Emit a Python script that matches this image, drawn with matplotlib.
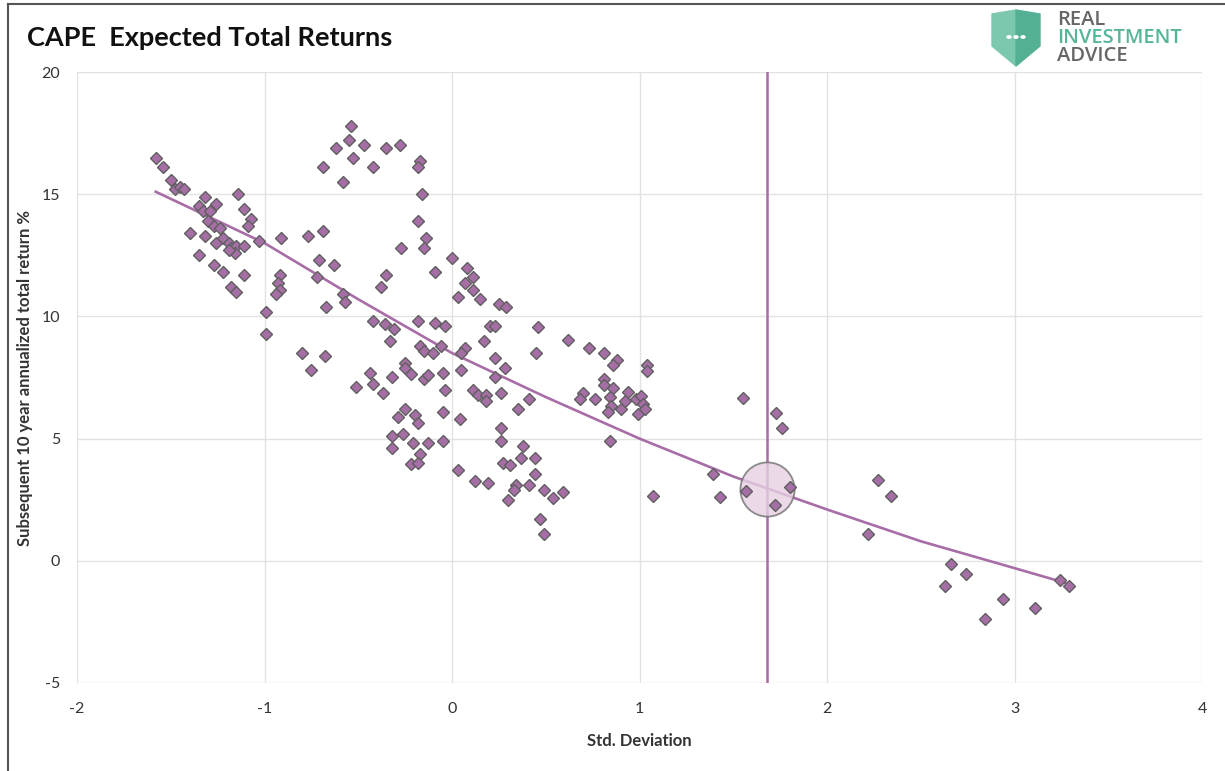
import matplotlib
matplotlib.use("Agg")
import matplotlib.pyplot as plt
from matplotlib.patches import Polygon, Circle
from matplotlib.lines import Line2D

plt.rcParams["font.family"] = ["Lato", "DejaVu Sans"]
plt.rcParams["axes.unicode_minus"] = False

# scatter data: CAPE std. deviation vs subsequent 10y annualized total return (%)
std_dev = [
    -1.58, -1.54, -1.50, -1.48, -1.45, -1.43, -1.32, -1.26, -1.35, -1.33, -1.29, -1.14, -1.11, -1.07,
    -1.09, -1.30, -1.27, -1.24, -1.40, -1.32, -1.26, -1.22, -1.19, -1.18, -1.15, -1.16, -1.19, -1.11,
    -1.03, -0.91, -1.35, -1.27, -1.22, -1.11, -1.18, -1.15, -0.92, -0.93, -0.92, -0.94, -0.99, -0.99,
    -0.77, -0.69, -0.71, -0.63, -0.72, -0.67, -0.69, -0.62, -0.80, -0.68, -0.75,
    -0.54, -0.55, -0.47, -0.53, -0.35, -0.28, -0.42, -0.58, -0.17, -0.18, -0.16, -0.18, -0.14, -0.15,
    -0.27, 0.00, -0.09, -0.35, -0.38, 0.08, 0.11, 0.07, 0.11, 0.03, 0.15, 0.25, 0.29, -0.58, -0.57,
    -0.42, -0.36, -0.31, -0.33, -0.18, -0.09, -0.04, 0.20, 0.23,
    -0.17, -0.15, -0.10, -0.06, 0.07, 0.05, 0.17, 0.23, 0.28, 0.23, -0.25, -0.25, -0.22, -0.44, -0.42,
    -0.37, -0.51, -0.32, -0.15, -0.13, -0.05, 0.05, -0.04, 0.11, 0.14, 0.18, 0.18, 0.26, 0.35, 0.41,
    -0.25, -0.29, -0.20, -0.18, -0.05, 0.04, -0.32, -0.26, -0.32, -0.21, -0.13, -0.05, -0.17, -0.22,
    -0.18, 0.03, 0.12, 0.19, 0.26, 0.26, 0.38, 0.37, 0.27, 0.31, 0.34, 0.33, 0.30,
    0.46, 0.45, 0.62, 0.73, 0.81, 0.88, 0.86, 1.04, 1.04, 0.81, 0.81, 0.86, 0.70, 0.68, 0.76, 0.84,
    0.85, 0.83, 0.90, 0.92, 0.94, 0.98, 1.01, 1.02, 0.99, 1.03, 0.84, 0.44, 0.44, 0.41, 0.49, 0.54,
    0.59, 0.47, 0.49, 1.07,
    1.39, 1.55, 1.73, 1.76, 1.43, 1.57, 1.72, 1.80, 2.27, 2.34, 2.22, 2.66, 2.74, 2.63, 2.94, 2.84,
    3.11, 3.24, 3.29,
]
total_return = [
    16.5, 16.1, 15.6, 15.2, 15.3, 15.2, 14.9, 14.6, 14.5, 14.3, 14.3, 15.0, 14.4, 14.0,
    13.7, 13.9, 13.7, 13.6, 13.4, 13.3, 13.0, 13.2, 13.0, 12.8, 12.9, 12.6, 12.7, 12.9,
    13.1, 13.2, 12.5, 12.1, 11.8, 11.7, 11.2, 11.0, 11.7, 11.35, 11.1, 10.9, 10.2, 9.3,
    13.3, 13.5, 12.3, 12.1, 11.6, 10.4, 16.1, 16.9, 8.5, 8.4, 7.8,
    17.8, 17.2, 17.0, 16.5, 16.9, 17.0, 16.1, 15.5, 16.35, 16.1, 15.0, 13.9, 13.2, 12.8,
    12.8, 12.4, 11.8, 11.7, 11.2, 12.0, 11.6, 11.35, 11.1, 10.8, 10.7, 10.5, 10.4, 10.9, 10.6,
    9.8, 9.7, 9.5, 9.0, 9.8, 9.75, 9.6, 9.6, 9.6,
    8.8, 8.6, 8.5, 8.8, 8.7, 8.5, 9.0, 8.3, 7.9, 7.5, 8.1, 7.9, 7.65, 7.7, 7.25,
    6.85, 7.1, 7.5, 7.45, 7.6, 7.7, 7.8, 7.0, 7.0, 6.8, 6.8, 6.55, 6.85, 6.2, 6.6,
    6.2, 5.9, 5.95, 5.65, 6.1, 5.8, 5.1, 5.2, 4.6, 4.8, 4.8, 4.9, 4.35, 3.95,
    4.0, 3.7, 3.25, 3.2, 5.45, 4.9, 4.7, 4.2, 4.0, 3.9, 3.1, 2.9, 2.5,
    9.55, 8.5, 9.05, 8.7, 8.5, 8.2, 8.0, 8.0, 7.75, 7.45, 7.2, 7.05, 6.85, 6.6, 6.6, 6.7,
    6.35, 6.1, 6.2, 6.55, 6.9, 6.6, 6.75, 6.4, 6.0, 6.2, 4.9, 4.2, 3.55, 3.1, 2.9, 2.55,
    2.8, 1.7, 1.1, 2.65,
    3.55, 6.65, 6.05, 5.45, 2.6, 2.85, 2.3, 3.0, 3.3, 2.65, 1.1, -0.15, -0.55, -1.05, -1.55, -2.4,
    -1.95, -0.8, -1.05,
]

# trend line
trend_x = [-1.58, -1.0, -0.5, 0.0, 0.5, 1.0, 1.5, 2.0, 2.5, 3.0, 3.27]
trend_y = [15.1, 13.0, 10.7, 8.5, 6.7, 5.0, 3.45, 2.1, 0.8, -0.3, -0.9]

current_std = 1.68
current_return = 2.95

x_ticks = [-2, -1, 0, 1, 2, 3, 4]
y_ticks = [-5, 0, 5, 10, 15, 20]

W, H = 1225, 771
PURPLE = "#a86da7"


def fx(x):
    return x / W


def fy(y):
    return 1 - y / H


fig = plt.figure(figsize=(W / 100, H / 100), dpi=100)
ax = fig.add_axes([fx(77), fy(683), fx(1202) - fx(77), fy(72) - fy(683)])

ax.plot(trend_x, trend_y, color=PURPLE, lw=1.9, zorder=2, solid_joinstyle="round")
ax.axvline(current_std, color=PURPLE, lw=1.8, zorder=2)
ax.plot([current_std], [current_return], marker="o", ms=39, mfc="#e6d0e3", mec="#707070",
        mew=1.3, alpha=0.8, ls="none", zorder=3)
ax.plot(std_dev, total_return, ls="none", marker="D", ms=6.3, mfc="#a56ea4", mec="#606060",
        mew=1.0, zorder=4)

ax.set_xlim(-2, 4)
ax.set_ylim(-5, 20)
ax.set_xticks(x_ticks)
ax.set_yticks(y_ticks)
ax.grid(True, color="#e2e2e2", lw=1.0)
ax.set_axisbelow(True)
for s in ax.spines.values():
    s.set_visible(False)
ax.tick_params(length=0, labelsize=11.5, colors="#333333", pad=14)
ax.tick_params(axis="y", pad=12)
ax.set_xlabel("Std. Deviation", fontsize=12, fontweight="bold", color="#333333", labelpad=12)
ax.set_ylabel("Subsequent 10 year annualized total return %", fontsize=12, fontweight="bold",
              color="#333333", labelpad=6)

fig.text(fx(27), fy(38), "CAPE  Expected Total Returns", fontsize=19.5, fontweight="bold",
         color="#111111", va="center", ha="left")

# frame lines of the screenshot
fig.add_artist(Line2D([fx(8), fx(8)], [fy(4), 0], color="#555555", lw=1.5))
fig.add_artist(Line2D([fx(8), 1], [fy(4), fy(4)], color="#555555", lw=1.5))

# logo
left_half = [(992, 14), (1016, 10), (1016, 66), (992, 46)]
right_half = [(1016, 10), (1040, 14), (1040, 46), (1016, 66)]
fig.add_artist(Polygon([(fx(a), fy(b)) for a, b in left_half], closed=True,
                       color="#7cc8ae", transform=fig.transFigure))
fig.add_artist(Polygon([(fx(a), fy(b)) for a, b in right_half], closed=True,
                       color="#54b095", transform=fig.transFigure))
for dx in (1009, 1016, 1023):
    fig.add_artist(Circle((fx(dx), fy(37)), 0.0016, color="white", transform=fig.transFigure))
for txt, yy, col in [("REAL", 20, "#666666"), ("INVESTMENT", 38, "#55b59a"), ("ADVICE", 56, "#666666")]:
    fig.text(fx(1057), fy(yy), txt, fontsize=14.5, color=col, va="center", ha="left",
             family="Open Sans", fontweight="semibold")

fig.savefig("out.png", dpi=100)
